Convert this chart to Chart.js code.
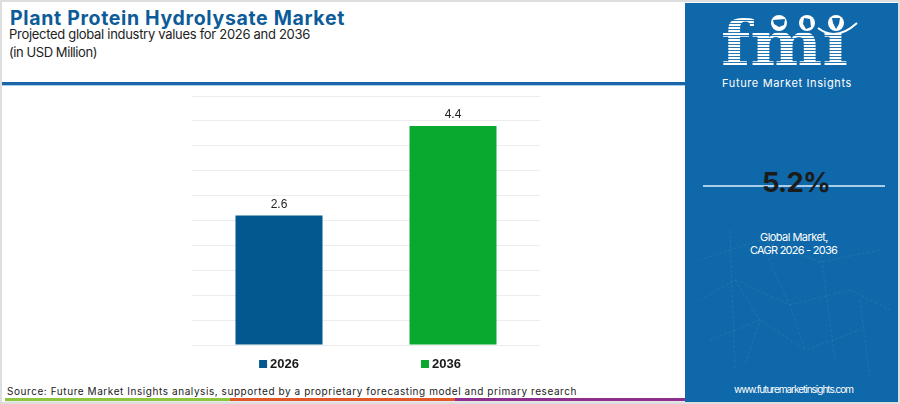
<!DOCTYPE html>
<html><head><meta charset="utf-8">
<script src="https://cdn.jsdelivr.net/npm/chart.js@4.4.1/dist/chart.umd.min.js"></script>
<style>
html,body{margin:0;padding:0;}
body{width:900px;height:404px;position:relative;overflow:hidden;background:#dedede;font-family:Inter,'Open Sans',sans-serif;}
#frame{position:absolute;left:2px;top:2px;width:896px;height:400px;background:#fff;}
#deco{position:absolute;left:0;top:0;}
.t{position:absolute;white-space:nowrap;line-height:1;display:inline-block;}
#chart{position:absolute;left:0;top:0;}
</style></head>
<body>
<div id="frame"></div>
<svg id="deco" width="900" height="404" viewBox="0 0 900 404">
  <defs>
    <pattern id="st" width="6" height="3" patternUnits="userSpaceOnUse">
      <rect width="6" height="2.1" fill="#ffffff"/>
    </pattern>
  </defs>
  <!-- header rule -->
  <rect x="2" y="82" width="683" height="3" fill="#1a66a8"/>
  <rect x="2" y="85" width="683" height="1" fill="#a9cbe8"/>
  <!-- bottom stripe -->
  <rect x="5" y="398" width="225" height="3" fill="#8cc63f"/>
  <rect x="230" y="398" width="225" height="3" fill="#e2582b"/>
  <rect x="455" y="398" width="230" height="3" fill="#8e2f8f"/>
  <rect x="5" y="401" width="680" height="1" fill="#e8e8e8"/>
  <!-- right panel -->
  <rect x="685" y="3" width="213" height="399" fill="#0f68a9"/>
  <g stroke="#8cc0e8" stroke-opacity="0.13" stroke-width="1" fill="none" stroke-dasharray="3 2">
    <path d="M700 260 L760 240 L820 262 L880 250"/>
    <path d="M700 300 L735 280 L790 305 L850 290 L890 310"/>
    <path d="M710 340 L760 320 L805 350 L860 330"/>
    <path d="M730 230 L735 370"/>
    <path d="M820 245 L835 360"/>
    <path d="M860 300 L870 380"/>
    <path d="M760 240 L790 305 L805 350"/>
    <path d="M735 280 L760 320 L745 365"/>
  </g>
  <!-- logo -->
  <text x="721" y="65" font-family="DejaVu Serif" font-weight="bold" font-size="62" fill="url(#st)" textLength="127" lengthAdjust="spacingAndGlyphs">fmı</text>
  <g fill="#ffffff">
    <circle cx="779" cy="23" r="8"/>
    <circle cx="807" cy="23" r="8"/>
    <circle cx="836" cy="23" r="8"/>
  </g>
  <g fill="#0f68a9">
    <path d="M773 20 L785 19 L784 25 L779 27 L774 24 Z"/>
    <path d="M804 18 L810 19 L811 27 L806 29 L803 24 Z"/>
    <path d="M832 18 L840 18 L839 24 L836 29 L833 23 Z"/>
  </g>
  <path d="M818 28 Q836 42 857 23" stroke="#ffffff" stroke-width="2" fill="none"/>
  <!-- CAGR rule -->
  <rect x="703" y="185" width="182" height="2" fill="#a9cde9"/>
</svg>

<div class="t" id="title" data-w="335" style="left:10px;top:9px;font-size:19.5px;font-weight:700;color:#0d5b98;">Plant Protein Hydrolysate Market</div>
<div class="t" id="sub1" data-w="301" style="left:9px;top:28px;font-size:13px;color:#222;">Projected global industry values for 2026 and 2036</div>
<div class="t" id="sub2" data-w="88" style="left:9px;top:46px;font-size:13px;color:#222;">(in USD Million)</div>
<div class="t" id="src" data-w="570" style="left:7px;top:385.5px;font-size:10px;color:#222;">Source: Future Market Insights analysis, supported by a proprietary forecasting model and primary research</div>

<div class="t" id="fmiText" data-w="130" style="left:722px;top:77.5px;font-size:11px;color:#fff;">Future Market Insights</div>
<div class="t" id="cagr" data-w="68" style="left:762px;top:169px;font-size:27.5px;font-weight:700;color:#1b1b1b;">5.2%</div>
<div class="t" id="gm" data-w="68" style="left:760px;top:232px;font-size:11px;color:#fff;">Global Market,</div>
<div class="t" id="cg" data-w="87" style="left:750px;top:244.5px;font-size:11px;color:#fff;">CAGR 2026 - 2036</div>
<div class="t" id="web" data-w="119" style="left:734px;top:383.5px;font-size:10px;color:#fff;">www.futuremarketinsights.com</div>

<canvas id="chart" width="900" height="404"></canvas>

<script>
// ---- data ----
const categories = ['2026', '2036'];
const values = [2.6, 4.4];
const barColors = ['#03588f', '#08a92e'];
const yMin = 0;
const yMax = 5;
const yStep = 0.5;

// fit header/panel texts to measured widths
document.querySelectorAll('.t[data-w]').forEach(el => {
  const target = parseFloat(el.dataset.w);
  const w = el.getBoundingClientRect().width;
  const n = el.textContent.length;
  el.style.letterSpacing = ((target - w) / n) + 'px';
});

const valueLabels = {
  id: 'valueLabels',
  afterDatasetsDraw(chart) {
    const ctx = chart.ctx;
    const meta = chart.getDatasetMeta(0);
    ctx.save();
    ctx.font = '12px "Liberation Sans", Arial, sans-serif';
    ctx.fillStyle = '#222';
    ctx.textAlign = 'center';
    ctx.textBaseline = 'alphabetic';
    meta.data.forEach((bar, i) => {
      ctx.fillText(String(chart.data.datasets[0].data[i]), bar.x, bar.y - 8);
    });
    ctx.restore();
  }
};

const bottomLegend = {
  id: 'bottomLegend',
  afterDraw(chart) {
    const ctx = chart.ctx;
    const area = chart.chartArea;
    const labels = chart.data.labels;
    const colors = chart.data.datasets[0].backgroundColor;
    ctx.save();
    ctx.font = 'bold 13px "Liberation Sans", Arial, sans-serif';
    const box = 8, gapText = 3, gapItem = 122;
    const widths = labels.map(l => box + gapText + ctx.measureText(l).width);
    const total = widths.reduce((a, b) => a + b, 0) + gapItem * (labels.length - 1);
    let x = (area.left + area.right) / 2 - 6 - total / 2;
    const base = area.bottom + 23;
    labels.forEach((l, i) => {
      ctx.fillStyle = colors[i];
      ctx.fillRect(x, base - box, box, box);
      ctx.fillStyle = '#1a1a1a';
      ctx.textAlign = 'left';
      ctx.textBaseline = 'alphabetic';
      ctx.fillText(l, x + box + gapText, base);
      x += widths[i] + gapItem;
    });
    ctx.restore();
  }
};

new Chart(document.getElementById('chart'), {
  type: 'bar',
  data: {
    labels: categories,
    datasets: [{
      data: values,
      backgroundColor: barColors,
      borderWidth: 0,
      categoryPercentage: 1,
      barPercentage: 0.5
    }]
  },
  options: {
    responsive: false,
    animation: false,
    layout: { padding: { left: 192, right: 360, top: 96, bottom: 59 } },
    plugins: { legend: { display: false }, tooltip: { enabled: false } },
    scales: {
      x: { display: false },
      y: {
        min: yMin, max: yMax,
        ticks: { display: false, stepSize: yStep },
        grid: { color: '#ececec', drawTicks: false, lineWidth: 1 },
        border: { display: false }
      }
    }
  },
  plugins: [valueLabels, bottomLegend]
});
</script>
</body></html>
